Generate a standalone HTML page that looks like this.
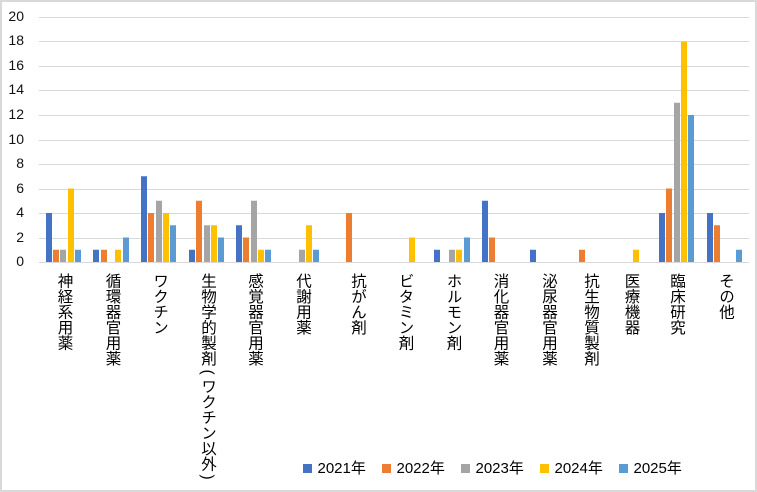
<!DOCTYPE html>
<html>
<head>
<meta charset="utf-8">
<style>
  html, body { margin: 0; padding: 0; background: #fff; }
  #wrap { position: relative; width: 757px; height: 492px; overflow: hidden; background: #fff; }
  svg { position: absolute; left: 0; top: 0; }
  .cl {
    position: absolute;
    top: 273px;
    width: 16px;
    writing-mode: vertical-rl;
    font-family: "Liberation Sans", "Noto Sans CJK JP", sans-serif;
    font-size: 15.5px;
    line-height: 16px;
    color: #000;
    white-space: nowrap;
  }
  .cl .p { padding-top: 3.5px; padding-bottom: 3.5px; }
</style>
</head>
<body>
<div id="wrap">
<svg width="757" height="492" viewBox="0 0 757 492" xmlns="http://www.w3.org/2000/svg">
  <rect x="1" y="1" width="755" height="490" fill="#fff" stroke="#d9d9d9" stroke-width="2"/>
  <!-- gridlines -->
  <g fill="#d9d9d9">
    <rect x="39" y="17" width="710" height="1"/>
    <rect x="39" y="41" width="710" height="1"/>
    <rect x="39" y="66" width="710" height="1"/>
    <rect x="39" y="90" width="710" height="1"/>
    <rect x="39" y="115" width="710" height="1"/>
    <rect x="39" y="140" width="710" height="1"/>
    <rect x="39" y="164" width="710" height="1"/>
    <rect x="39" y="189" width="710" height="1"/>
    <rect x="39" y="213" width="710" height="1"/>
    <rect x="39" y="238" width="710" height="1"/>
  </g>
  <!-- y labels -->
  <g font-family="Liberation Sans, sans-serif" font-size="14" fill="#111" text-anchor="end">
    <text x="24" y="21">20</text>
    <text x="24" y="45">18</text>
    <text x="24" y="70">16</text>
    <text x="24" y="94">14</text>
    <text x="24" y="119">12</text>
    <text x="24" y="144">10</text>
    <text x="24" y="168">8</text>
    <text x="24" y="193">6</text>
    <text x="24" y="217">4</text>
    <text x="24" y="242">2</text>
    <text x="24" y="266">0</text>
  </g>
  <!-- bars -->
  <g>
    <!-- cat1 -->
    <rect x="46" y="213" width="6" height="49" fill="#4472C4"/>
    <rect x="53" y="249.75" width="6" height="12.25" fill="#ED7D31"/>
    <rect x="60" y="249.75" width="6" height="12.25" fill="#A5A5A5"/>
    <rect x="68" y="188.5" width="6" height="73.5" fill="#FFC000"/>
    <rect x="75" y="249.75" width="6" height="12.25" fill="#5B9BD5"/>
    <!-- cat2 -->
    <rect x="93" y="249.75" width="6" height="12.25" fill="#4472C4"/>
    <rect x="101" y="249.75" width="6" height="12.25" fill="#ED7D31"/>
    <rect x="115" y="249.75" width="6" height="12.25" fill="#FFC000"/>
    <rect x="123" y="237.5" width="6" height="24.5" fill="#5B9BD5"/>
    <!-- cat3 -->
    <rect x="141" y="176.25" width="6" height="85.75" fill="#4472C4"/>
    <rect x="148" y="213" width="6" height="49" fill="#ED7D31"/>
    <rect x="156" y="200.75" width="6" height="61.25" fill="#A5A5A5"/>
    <rect x="163" y="213" width="6" height="49" fill="#FFC000"/>
    <rect x="170" y="225.25" width="6" height="36.75" fill="#5B9BD5"/>
    <!-- cat4 -->
    <rect x="189" y="249.75" width="6" height="12.25" fill="#4472C4"/>
    <rect x="196" y="200.75" width="6" height="61.25" fill="#ED7D31"/>
    <rect x="204" y="225.25" width="6" height="36.75" fill="#A5A5A5"/>
    <rect x="211" y="225.25" width="6" height="36.75" fill="#FFC000"/>
    <rect x="218" y="237.5" width="6" height="24.5" fill="#5B9BD5"/>
    <!-- cat5 -->
    <rect x="236" y="225.25" width="6" height="36.75" fill="#4472C4"/>
    <rect x="243" y="237.5" width="6" height="24.5" fill="#ED7D31"/>
    <rect x="251" y="200.75" width="6" height="61.25" fill="#A5A5A5"/>
    <rect x="258" y="249.75" width="6" height="12.25" fill="#FFC000"/>
    <rect x="265" y="249.75" width="6" height="12.25" fill="#5B9BD5"/>
    <!-- cat6 -->
    <rect x="299" y="249.75" width="6" height="12.25" fill="#A5A5A5"/>
    <rect x="306" y="225.25" width="6" height="36.75" fill="#FFC000"/>
    <rect x="313" y="249.75" width="6" height="12.25" fill="#5B9BD5"/>
    <!-- cat7 -->
    <rect x="346" y="213" width="6" height="49" fill="#ED7D31"/>
    <!-- cat8 -->
    <rect x="409" y="237.5" width="6" height="24.5" fill="#FFC000"/>
    <!-- cat9 -->
    <rect x="434" y="249.75" width="6" height="12.25" fill="#4472C4"/>
    <rect x="449" y="249.75" width="6" height="12.25" fill="#A5A5A5"/>
    <rect x="456" y="249.75" width="6" height="12.25" fill="#FFC000"/>
    <rect x="464" y="237.5" width="6" height="24.5" fill="#5B9BD5"/>
    <!-- cat10 -->
    <rect x="482" y="200.75" width="6" height="61.25" fill="#4472C4"/>
    <rect x="489" y="237.5" width="6" height="24.5" fill="#ED7D31"/>
    <!-- cat11 -->
    <rect x="530" y="249.75" width="6" height="12.25" fill="#4472C4"/>
    <!-- cat12 -->
    <rect x="579" y="249.75" width="6" height="12.25" fill="#ED7D31"/>
    <!-- cat13 -->
    <rect x="633" y="249.75" width="6" height="12.25" fill="#FFC000"/>
    <!-- cat14 -->
    <rect x="659" y="213" width="6" height="49" fill="#4472C4"/>
    <rect x="666" y="188.5" width="6" height="73.5" fill="#ED7D31"/>
    <rect x="674" y="102.75" width="6" height="159.25" fill="#A5A5A5"/>
    <rect x="681" y="41.5" width="6" height="220.5" fill="#FFC000"/>
    <rect x="688" y="115" width="6" height="147" fill="#5B9BD5"/>
    <!-- cat15 -->
    <rect x="707" y="213" width="6" height="49" fill="#4472C4"/>
    <rect x="714" y="225.25" width="6" height="36.75" fill="#ED7D31"/>
    <rect x="736" y="249.75" width="6" height="12.25" fill="#5B9BD5"/>
  </g>
  <!-- axis line -->
  <rect x="39" y="262" width="710" height="1" fill="#d9d9d9"/>
  <!-- legend -->
  <g font-family="Liberation Sans, Noto Sans CJK JP, sans-serif" font-size="15" fill="#000">
    <rect x="303" y="464" width="9" height="9" fill="#4472C4"/>
    <text x="317.5" y="473">2021年</text>
    <rect x="382" y="464" width="9" height="9" fill="#ED7D31"/>
    <text x="396.5" y="473">2022年</text>
    <rect x="461" y="464" width="9" height="9" fill="#A5A5A5"/>
    <text x="475.5" y="473">2023年</text>
    <rect x="540" y="464" width="9" height="9" fill="#FFC000"/>
    <text x="554.5" y="473">2024年</text>
    <rect x="619" y="464" width="9" height="9" fill="#5B9BD5"/>
    <text x="633.5" y="473">2025年</text>
  </g>
</svg>
<div class="cl" style="left:55.5px">神経系用薬</div>
<div class="cl" style="left:103.5px">循環器官用薬</div>
<div class="cl" style="left:151px">ワクチン</div>
<div class="cl" style="left:199px">生物学的製剤<span class="p">(</span>ワクチン以外<span class="p">)</span></div>
<div class="cl" style="left:246px">感覚器官用薬</div>
<div class="cl" style="left:294px">代謝用薬</div>
<div class="cl" style="left:349px">抗がん剤</div>
<div class="cl" style="left:396.5px">ビタミン剤</div>
<div class="cl" style="left:444.5px">ホルモン剤</div>
<div class="cl" style="left:491.5px">消化器官用薬</div>
<div class="cl" style="left:540px">泌尿器官用薬</div>
<div class="cl" style="left:582px">抗生物質製剤</div>
<div class="cl" style="left:622.5px">医療機器</div>
<div class="cl" style="left:668px">臨床研究</div>
<div class="cl" style="left:717px">その他</div>
</div>
</body>
</html>
